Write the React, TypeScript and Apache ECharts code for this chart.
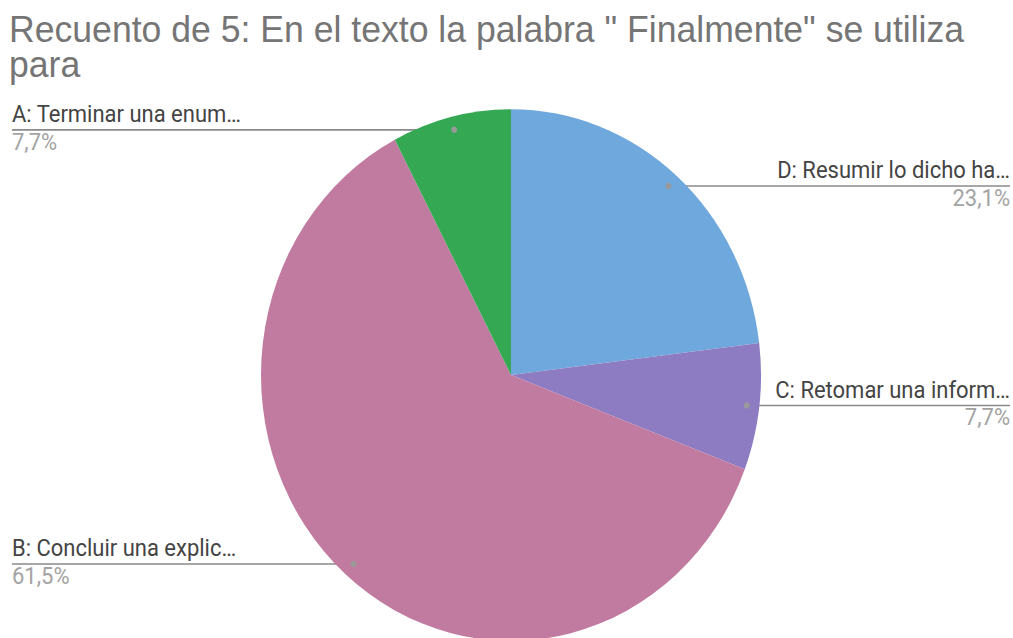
import React, { useEffect, useRef } from "react";
import * as echarts from "echarts";

const titleLines = ['Recuento de 5: En el texto la palabra " Finalmente" se utiliza', "para"];
const categories = [
  "D: Resumir lo dicho ha…",
  "C: Retomar una inform…",
  "B: Concluir una explic…",
  "A: Terminar una enum…",
];
const counts = [3, 1, 8, 1];
const colors = ["#6fa8dc", "#8e7cc3", "#c27ba0", "#34a853"];

const W = 1013;
const H = 600;
const SCALE_Y = 638 / 600;
const CX = 511;
const CY = 352.7;
const R = 250;

const total = counts.reduce((a, b) => a + b, 0);
const pctText = (v: number) => ((v / total) * 100).toFixed(1).replace(".", ",") + "%";

function dotPos(i: number): [number, number] {
  let before = 0;
  for (let k = 0; k < i; k++) before += counts[k];
  const mid = (before + counts[i] / 2) / total;
  const t = mid * Math.PI * 2;
  return [CX + 0.95 * R * Math.sin(t), CY - 0.95 * R * Math.cos(t)];
}

export default function App() {
  const ref = useRef<HTMLDivElement>(null);
  useEffect(() => {
    if (!ref.current) return;
    const chart = echarts.init(ref.current, undefined, { renderer: "svg" });
    const font = "Roboto";
    const nameStyle = { fontFamily: font, fontSize: 22, lineHeight: 29, color: "#444444" };
    const pctStyle = { fontFamily: font, fontSize: 22, lineHeight: 23, color: "#a3a3a3" };
    chart.setOption({
      animation: false,
      title: {
        text: titleLines.join("\n"),
        left: 9,
        top: 10.5,
        padding: 0,
        textStyle: {
          fontFamily: "Liberation Sans, Arial, sans-serif",
          fontSize: 35.6,
          lineHeight: 33,
          fontWeight: "normal",
          color: "#757575",
        },
      },
      series: [
        {
          type: "pie",
          center: [CX, CY],
          radius: R,
          startAngle: 90,
          clockwise: true,
          avoidLabelOverlap: false,
          silent: true,
          emphasis: { disabled: true },
          data: categories.map((name, i) => ({
            name,
            value: counts[i],
            itemStyle: { color: colors[i] },
          })),
          label: {
            show: true,
            position: "outside",
            formatter: (p: any) => {
              const right = dotPos(p.dataIndex)[0] > CX;
              const s = right ? "R" : "L";
              return `{n${s}|${p.name}}\n{p${s}|${pctText(p.value)}}`;
            },
            rich: {
              nR: { ...nameStyle, align: "right" },
              pR: { ...pctStyle, align: "right" },
              nL: { ...nameStyle, align: "left" },
              pL: { ...pctStyle, align: "left" },
            },
          },
          labelLine: {
            show: true,
            lineStyle: { color: "#8a8a8a", width: 1.5 },
          },
          labelLayout: (params: any) => {
            const i = params.dataIndex;
            const [x0, y0] = dotPos(i);
            const right = x0 > CX;
            const ex = right ? W - 3 : 12;
            return {
              x: ex,
              y: y0 - 29,
              align: right ? "right" : "left",
              verticalAlign: "top",
              labelLinePoints: [
                [x0, y0],
                [ex, y0],
                [ex, y0],
              ],
            };
          },
        },
      ],
      graphic: categories.map((_, i) => {
        const [x, y] = dotPos(i);
        return {
          type: "circle",
          z: 100,
          silent: true,
          shape: { cx: x, cy: y, r: 3 },
          style: { fill: "#999999" },
        };
      }),
    });
    return () => chart.dispose();
  }, []);
  return (
    <div
      ref={ref}
      style={{
        position: "absolute",
        left: 0,
        top: 0,
        width: W,
        height: H,
        transform: `scaleY(${SCALE_Y})`,
        transformOrigin: "top left",
        background: "#ffffff",
      }}
    />
  );
}
